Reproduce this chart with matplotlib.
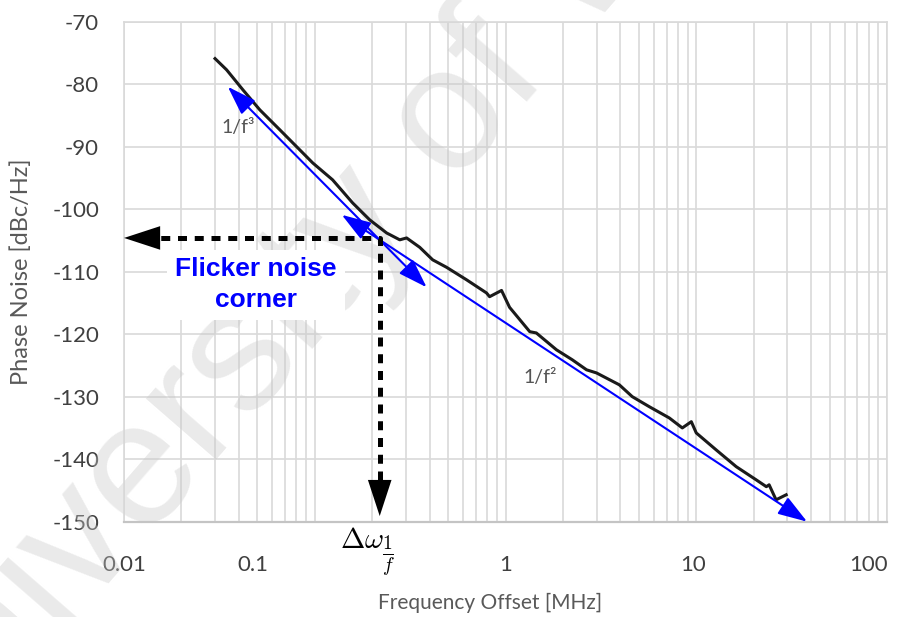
import numpy as np
import matplotlib as mpl
mpl.use('Agg')
import matplotlib.pyplot as plt
from matplotlib.ticker import LogLocator, NullFormatter, FixedLocator
from matplotlib.transforms import ScaledTranslation

mpl.rc('font', family=['Lato', 'DejaVu Sans'])
mpl.rc('mathtext', fontset='cm')

freq_mhz = [0.0300, 0.0345, 0.0420, 0.0515, 0.0656, 0.0834, 0.0976, 0.124,
            0.158, 0.194, 0.238, 0.279, 0.303, 0.355, 0.415, 0.491, 0.625,
            0.795, 0.825, 0.953, 1.05, 1.34, 1.45, 1.85, 2.24, 2.66, 3.00,
            3.95, 4.62, 5.67, 7.22, 8.45, 9.42, 10.0, 12.7, 16.2, 20.6,
            23.3, 24.1, 26.2, 29.6]
pn_dbc = [-75.9, -77.7, -80.9, -84.1, -87.3, -90.5, -92.6, -95.3,
          -99.0, -101.7, -103.8, -104.9, -104.6, -106.1, -108.1, -109.3,
          -111.3, -113.4, -114.0, -113.0, -115.7, -119.6, -119.8, -122.5,
          -124.1, -125.7, -126.2, -128.1, -130.0, -131.6, -133.4, -135.0,
          -134.0, -135.8, -138.5, -141.2, -143.3, -144.4, -144.1, -146.5,
          -145.7]

# asymptote arrows (start, end) as (MHz, dBc/Hz)
f3_line = [(0.0350, -80.4), (0.386, -112.5)]
f2_line = [(0.1385, -100.9), (38.1, -150.0)]

# flicker corner
corner_f = 0.219
corner_pn = -104.6
left_tip_f = 0.01
bottom_tip_pn = -149.1

xticks = [0.01, 0.1, 1, 10, 100]
xtick_labels = ['0.01', '0.1', '1', '10', '100']
yticks = [-70, -80, -90, -100, -110, -120, -130, -140, -150]

label_grey = '#404040'
grid_grey = '#d9d9d9'

fig = plt.figure(figsize=(9.12, 6.17), dpi=100)
ax = fig.add_axes([0.136, 0.1545, 0.8366, 0.8103])

ax.set_xscale('log')
ax.set_xlim(0.01, 100)
ax.set_ylim(-150, -70)
ax.set_axisbelow(True)

ax.xaxis.set_major_locator(FixedLocator(xticks))
ax.set_xticklabels(xtick_labels)
ax.xaxis.set_minor_locator(LogLocator(base=10, subs=range(2, 10)))
ax.xaxis.set_minor_formatter(NullFormatter())
ax.set_yticks(yticks)
ax.set_yticklabels([str(v) for v in yticks])
ax.grid(True, which='both', axis='x', color=grid_grey, lw=1.2)
ax.grid(True, which='major', axis='y', color=grid_grey, lw=1.2)
ax.tick_params(which='both', length=0, labelsize=16, labelcolor=label_grey)
ax.tick_params(axis='y', pad=18)
ax.tick_params(axis='x', pad=24)
for side in ['top', 'right', 'left']:
    ax.spines[side].set_color(grid_grey)
    ax.spines[side].set_linewidth(1.2)
ax.spines['bottom'].set_color('#c4c4c4')
ax.spines['bottom'].set_linewidth(1.6)

# nudge a couple of tick labels like in the source figure
shifts = {'0.1': -62, '10': -3, '100': -18}
for lab in ax.get_xticklabels():
    dx = shifts.get(lab.get_text(), 0)
    if dx:
        lab.set_transform(lab.get_transform() +
                          ScaledTranslation(dx / 100, 0, fig.dpi_scale_trans))

ax.set_xlabel('Frequency Offset [MHz]', fontsize=15, color='#595959')
ax.set_ylabel('Phase Noise [dBc/Hz]', fontsize=17, color='#595959')
ax.xaxis.set_label_coords(0.48, -0.142)
ax.yaxis.set_label_coords(-0.121, 0.5)

# watermark
ax.text(-0.095, -0.31, 'University of W', transform=fig.transFigure,
        fontsize=127, family='Liberation Sans', color='#c8c8c8', alpha=0.38,
        rotation=49, rotation_mode='anchor', ha='left', va='baseline',
        clip_on=False, zorder=1)

# measured curve
ax.plot(freq_mhz, pn_dbc, color='#1a1a1a', lw=2.2, zorder=3)

# asymptotes
for (x0, y0), (x1, y1) in [f3_line, f2_line]:
    ax.annotate('', xy=(x1, y1), xytext=(x0, y0),
                arrowprops=dict(arrowstyle='<|-|>,head_length=1.8,head_width=0.6',
                                mutation_scale=10, color='#0000ff', lw=1.5,
                                shrinkA=0, shrinkB=0),
                zorder=4, annotation_clip=False)

ax.text(0.0395, -86.85, '1/f³', fontsize=14, color='#555555', ha='center',
        va='center', zorder=3)
ax.text(1.52, -127.0, '1/f²', fontsize=14, color='#555555', ha='center',
        va='center', zorder=3)

# flicker corner dashed guides
ax.plot([0.0127, corner_f, corner_f], [corner_pn, corner_pn, -146.0],
        color='black', lw=3.6, linestyle=(0, (1.8, 1.55)),
        dash_capstyle='butt', zorder=5, clip_on=False)
for tip in [(left_tip_f, corner_pn), (corner_f, bottom_tip_pn)]:
    ax.annotate('', xy=tip, xytext=(corner_f, corner_pn),
                arrowprops=dict(arrowstyle='-|>,head_length=2.6,head_width=0.85',
                                mutation_scale=10, color='black', lw=0,
                                shrinkA=0, shrinkB=0),
                zorder=5, annotation_clip=False)

ax.text(0.0491, -112.1, 'Flicker noise\ncorner', fontsize=19,
        family=['Liberation Sans', 'DejaVu Sans'], fontweight='bold',
        color='#0000ff', ha='center', va='center', linespacing=1.35,
        bbox=dict(boxstyle='square,pad=0.3', fc='white', ec='none'),
        zorder=4)

# corner frequency label below the axis
ax.annotate(r'$\Delta\omega$', xy=(corner_f, 0),
            xycoords=('data', 'axes fraction'), xytext=(-13, -4),
            textcoords='offset points', fontsize=21, ha='center', va='top',
            annotation_clip=False)
ax.annotate(r'$\frac{1}{f}$', xy=(corner_f, 0),
            xycoords=('data', 'axes fraction'), xytext=(1.5, -25),
            textcoords='offset points', fontsize=20, ha='left',
            va='center', annotation_clip=False)

fig.savefig('out.png', dpi=100)
